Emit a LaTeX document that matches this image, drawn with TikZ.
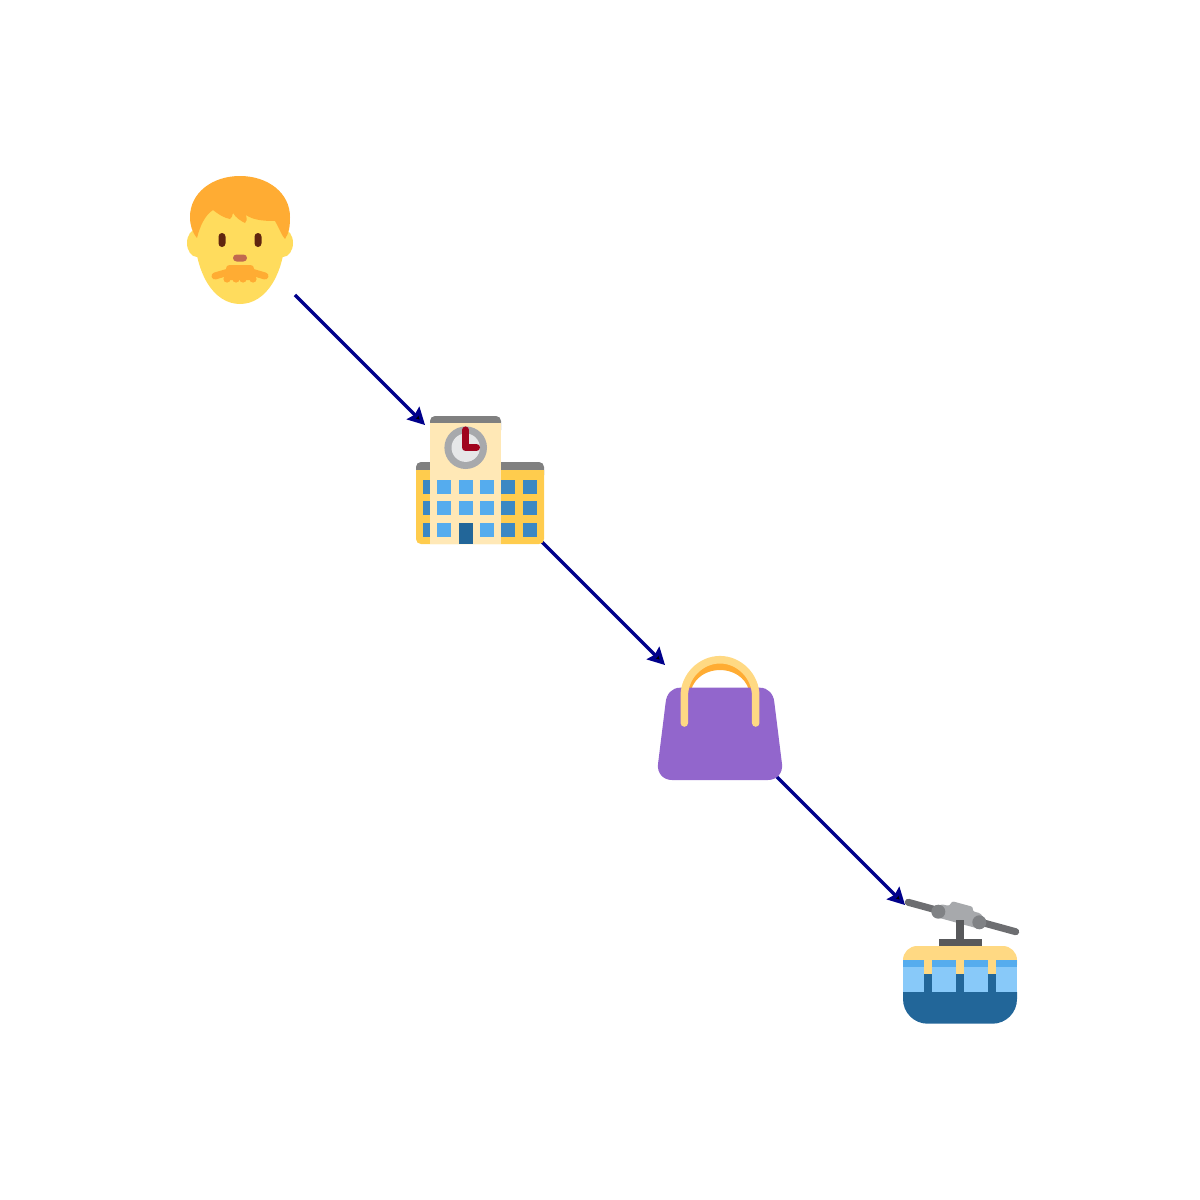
\documentclass[tikz,border=0pt]{standalone}
\usepackage{tikz}
\usetikzlibrary{arrows.meta}
\definecolor{skin}{HTML}{FFDC5D}
\definecolor{hair}{HTML}{FFAC33}
\definecolor{eye}{HTML}{60250F}
\definecolor{nose}{HTML}{C1694F}
\definecolor{wall}{HTML}{FFCC4D}
\definecolor{tower}{HTML}{FFE8B6}
\definecolor{roof}{HTML}{808080}
\definecolor{glass}{HTML}{55ACEE}
\definecolor{glassdark}{HTML}{3B88C3}
\definecolor{door}{HTML}{226699}
\definecolor{clockrim}{HTML}{A7A9AC}
\definecolor{clockface}{HTML}{E6E7E8}
\definecolor{clockhand}{HTML}{A0041E}
\definecolor{bag}{HTML}{9266CC}
\definecolor{strap}{HTML}{FFD983}
\definecolor{cable}{HTML}{6D6E71}
\definecolor{wheel}{HTML}{808285}
\definecolor{stem}{HTML}{58595B}
\definecolor{pane}{HTML}{88C9F9}
\definecolor{linkblue}{HTML}{00008B}
\tikzstyle{icon}=[circle, minimum size=3.11cm, inner sep=0pt, outer sep=0pt]
\tikzstyle{arrow}=[draw=linkblue, line width=2pt, >={Stealth[length=9.6pt, width=10pt, inset=1.3pt]}]

\begin{document}
\begin{tikzpicture}[x=0.02cm, y=-0.02cm]
	\useasboundingbox (0,0) rectangle (1200,1200);
	\begin{scope}
		\node (man) at (240, 240)[icon] {};
		\node (school) at (480, 480)[icon] {};
		\node (handbag) at (720, 720)[icon] {};
		\node (gondola) at (960, 960)[icon] {};
	\end{scope}
	\begin{scope}
		\path [arrow, ->] (man) edge (school);
		\path [arrow, ->] (school) edge (handbag);
		\path [arrow, ->] (handbag) edge (gondola);
	\end{scope}
	% man
	\begin{scope}
		\fill [skin] (197, 243) ellipse [x radius=10, y radius=14];
		\fill [skin] (283, 243) ellipse [x radius=10, y radius=14];
		\fill [skin] (194, 225) .. controls (194, 274) and (214, 304) .. (240, 304)
			.. controls (266, 304) and (286, 274) .. (286, 225)
			.. controls (286, 195) and (194, 195) .. (194, 225) -- cycle;
		\fill [hair] (197, 238) .. controls (192, 232) and (190, 225) .. (190, 217)
			.. controls (190, 193) and (212, 176) .. (240, 176)
			.. controls (268, 176) and (290, 193) .. (290, 217)
			.. controls (290, 227) and (289, 233) .. (285, 239)
			.. controls (282, 236) and (279, 228) .. (275, 221)
			.. controls (263, 221) and (253, 220) .. (246, 215)
			.. controls (247, 219) and (247, 222) .. (245, 223)
			.. controls (241, 221) and (236, 218) .. (233, 213)
			.. controls (232, 216) and (232, 218) .. (230, 219)
			.. controls (224, 218) and (218, 214) .. (213, 210)
			.. controls (205, 215) and (200, 226) .. (197, 238) -- cycle;
		\fill [eye, rounded corners=2pt] (218.5, 233) rectangle (225.5, 247);
		\fill [eye, rounded corners=2pt] (254.5, 233) rectangle (261.5, 247);
		\fill [nose, rounded corners=2pt] (233, 254.5) rectangle (247, 261.5);
		\fill [hair, rounded corners=2pt] (226, 265) rectangle (254, 280);
		\draw [hair, line width=4pt, line cap=round] (215, 276) -- (232, 271);
		\draw [hair, line width=4pt, line cap=round] (265, 276) -- (248, 271);
		\foreach \lobex in {227, 236, 243, 253} {
			\fill [hair] (\lobex, 279) circle [radius=3.6];
		}
	\end{scope}
	% school
	\begin{scope}
		\fill [roof, rounded corners=2.8pt] (416, 462) rectangle (544, 480);
		\fill [wall] (416, 470) [rounded corners=2.8pt] -- (416, 544) -- (544, 544) [sharp corners] -- (544, 470) -- cycle;
		\foreach \winy in {480, 501.3, 522.7} {
			\fill [glassdark] (423, \winy) rectangle +(7, 14);
			\fill [glassdark] (501.3, \winy) rectangle +(14, 14);
			\fill [glassdark] (522.7, \winy) rectangle +(14, 14);
		}
		\fill [roof, rounded corners=2.8pt] (430, 416) rectangle (501, 435);
		\fill [tower] (430, 423) rectangle (501, 544);
		\foreach \winx in {437.3, 458.7, 480} {
			\foreach \winy in {480, 501.3, 522.7} {
				\fill [glass] (\winx, \winy) rectangle +(14, 14);
			}
		}
		\fill [door] (458.7, 522.7) rectangle (472.7, 544);
		\fill [clockrim] (465.7, 447.7) circle [radius=21.3];
		\fill [clockface] (465.7, 447.7) circle [radius=14.2];
		\draw [clockhand, line width=4pt, line cap=round, line join=round] (465.5, 430) -- (465.5, 447.5) -- (476.5, 447.5);
	\end{scope}
	% handbag
	\begin{scope}
		\fill [hair] (686, 690) .. controls (690, 672) and (704, 662.5) .. (720, 662.5)
			.. controls (736, 662.5) and (750, 672) .. (754, 690)
			-- (749, 690) .. controls (745, 677) and (733, 670) .. (720, 670)
			.. controls (707, 670) and (695, 677) .. (691, 690) -- cycle;
		\fill [bag] (680, 687.7) -- (760, 687.7)
			.. controls (768, 687.7) and (773.5, 694) .. (774.3, 702)
			-- (782, 764) .. controls (783, 773) and (777, 780) .. (768, 780)
			-- (672, 780) .. controls (663, 780) and (657, 773) .. (658, 764)
			-- (665.7, 702) .. controls (666.5, 694) and (672, 687.7) .. (680, 687.7) -- cycle;
		\draw [strap, line width=4.3pt, line cap=round] (684.3, 723) -- (684.3, 696)
			.. controls (684.3, 676) and (701, 659.7) .. (720, 659.7)
			.. controls (739, 659.7) and (755.7, 676) .. (755.7, 696) -- (755.7, 723);
	\end{scope}
	% gondola
	\begin{scope}
		\draw [cable, line width=4pt, line cap=round] (908.3, 902.3) -- (1015.7, 931.7);
		\fill [clockrim, rounded corners=1.5pt] (951.5, 901) -- (973.5, 907) -- (972, 911) -- (981, 913.5) -- (985, 921) -- (976, 928) -- (936, 917) -- (940, 904) -- (950, 906) -- cycle;
		\draw [stem, line width=4pt] (960, 920) -- (960, 940);
		\fill [wheel] (938.3, 911.7) circle [radius=7];
		\fill [wheel] (979.3, 922.3) circle [radius=7];
		\fill [stem] (939, 939) rectangle (981.7, 946);
		\fill [strap] (903, 965) [rounded corners=8pt] -- (903, 946) -- (1017, 946) [sharp corners] -- (1017, 965) -- cycle;
		\fill [glass] (903, 960) rectangle (1017, 967.3);
		\fill [pane] (903, 967.3) rectangle (1017, 995);
		\fill [door] (903, 992) [rounded corners=14pt] -- (903, 1023.7) -- (1017, 1023.7) [sharp corners] -- (1017, 992) -- cycle;
		\foreach \barx in {924.3, 956.3, 988.3} {
			\fill [strap] (\barx, 960) rectangle +(7.4, 14.3);
			\fill [door] (\barx, 974.3) rectangle +(7.4, 17.7);
		}
	\end{scope}
\end{tikzpicture}
\end{document}
